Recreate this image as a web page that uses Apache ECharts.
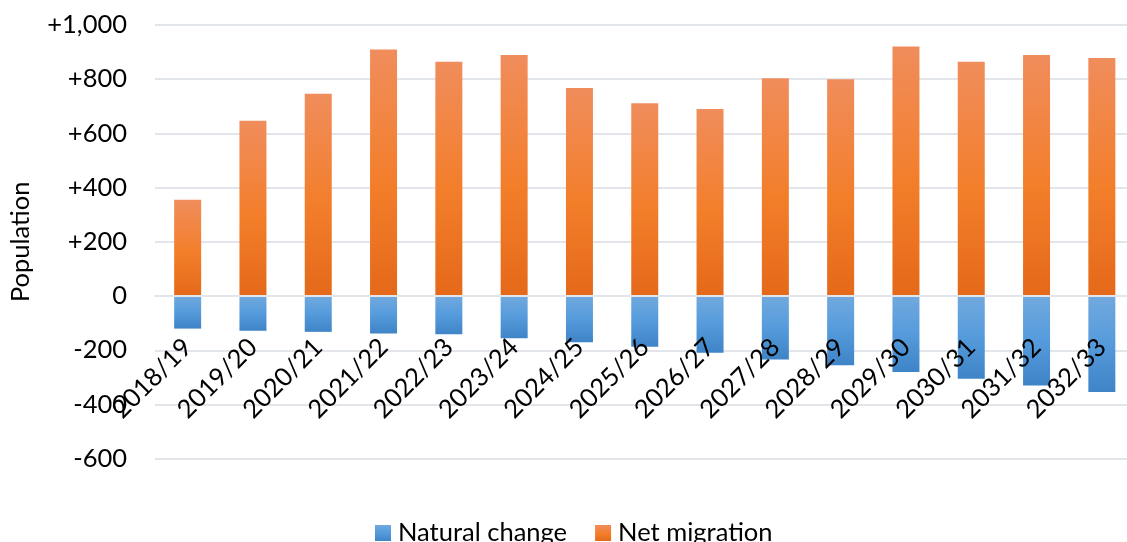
<!DOCTYPE html>
<html>
<head>
<meta charset="utf-8">
<script src="https://cdn.jsdelivr.net/npm/echarts@6/dist/echarts.min.js"></script>
<style>
html,body{margin:0;padding:0;background:#fff;}
#chart{width:1127px;height:542px;}
</style>
</head>
<body>
<div id="chart"></div>
<script>
var categories = ['2018/19','2019/20','2020/21','2021/22','2022/23','2023/24','2024/25','2025/26','2026/27','2027/28','2028/29','2029/30','2030/31','2031/32','2032/33'];
var naturalChange = [-120,-128,-132,-138,-141,-156,-170,-187,-209,-234,-255,-280,-305,-330,-354];
var netMigration = [355,647,746,910,864,889,768,711,690,804,800,921,864,889,878];
var seriesNames = ['Natural change','Net migration'];
var yTicks = {min:-600, max:1000, interval:200};

var FONT = 'Lato';
var FS = 25.5;
var gridColor = '#e2e5ea';
var GRID_TOP = 25, GRID_BOTTOM = 83.3, H = 542;
var plotH = H - GRID_TOP - GRID_BOTTOM;
// distance from plot bottom to the zero line, derived from the axis range
var zeroOffset = plotH * (0 - yTicks.min) / (yTicks.max - yTicks.min);

function grad(stops){
  return new echarts.graphic.LinearGradient(0,0,0,1, stops.map(function(s){return {offset:s[0], color:s[1]};}));
}
var orangeGrad = grad([[0,'#f08d5c'],[0.55,'#f37e2a'],[1,'#e4691a']]);
var blueGrad = grad([[0,'#71a9de'],[0.5,'#559bdc'],[1,'#3e84c6']]);

var chart = echarts.init(document.getElementById('chart'), null, {renderer:'canvas'});
chart.setOption({
  animation:false,
  backgroundColor:'#ffffff',
  textStyle:{fontFamily:FONT},
  grid:{left:155, top:GRID_TOP, width:979.5, bottom:GRID_BOTTOM, containLabel:false, outerBoundsMode:'none'},
  legend:{
    data:seriesNames,
    left:375, top:520, padding:0,
    itemWidth:16, itemHeight:16, itemGap:28,
    icon:'rect',
    textStyle:{fontFamily:FONT, fontSize:FS, color:'#000', padding:[0,0,0,2]}
  },
  xAxis:{
    type:'category',
    data:categories,
    position:'bottom',
    offset:-zeroOffset,
    z:10,
    axisLine:{onZero:false, lineStyle:{color:gridColor, width:2}},
    axisTick:{show:false},
    axisLabel:{rotate:45, margin:47, fontFamily:FONT, fontSize:FS, color:'#000', interval:0, hideOverlap:false},
    splitLine:{show:false}
  },
  yAxis:{
    type:'value',
    min:yTicks.min, max:yTicks.max, interval:yTicks.interval,
    name:'Population',
    nameLocation:'middle',
    nameGap:121,
    nameMoveOverlap:false,
    nameTextStyle:{fontFamily:FONT, fontSize:FS, color:'#000'},
    axisLine:{show:false},
    axisTick:{show:false},
    axisLabel:{
      margin:28, fontFamily:FONT, fontSize:FS, color:'#000',
      formatter:function(v){
        if(v>0) return '+' + v.toLocaleString('en-US');
        return v.toLocaleString('en-US');
      }
    },
    splitLine:{lineStyle:{color:gridColor, width:2}}
  },
  series:[
    {name:seriesNames[0], type:'bar', stack:'pop', data:naturalChange, barWidth:27,
     itemStyle:{color:blueGrad}},
    {name:seriesNames[1], type:'bar', stack:'pop', data:netMigration, barWidth:27,
     itemStyle:{color:orangeGrad}}
  ]
});
</script>
</body>
</html>
